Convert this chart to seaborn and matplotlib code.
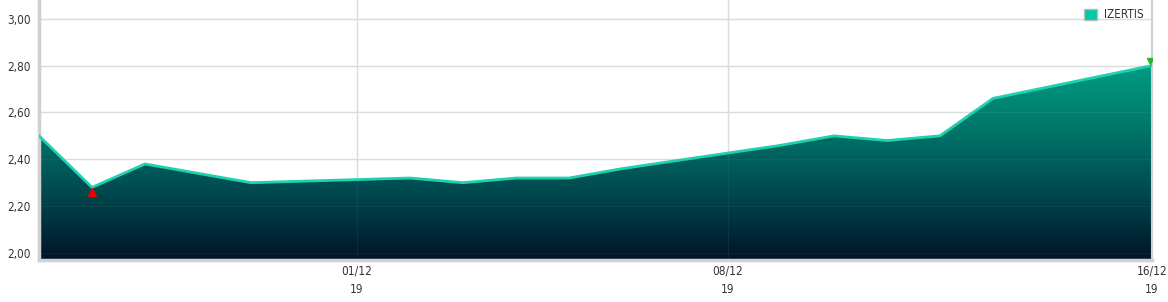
import matplotlib
matplotlib.use("Agg")
import matplotlib.pyplot as plt
import matplotlib.dates as mdates
from matplotlib.colors import LinearSegmentedColormap
from matplotlib.patches import Patch
import numpy as np
import pandas as pd
import seaborn as sns

dates = ["2019-11-25", "2019-11-26", "2019-11-27", "2019-11-28", "2019-11-29",
         "2019-12-02", "2019-12-03", "2019-12-04", "2019-12-05", "2019-12-06",
         "2019-12-09", "2019-12-10", "2019-12-11", "2019-12-12", "2019-12-13",
         "2019-12-16"]
prices = [2.50, 2.28, 2.38, 2.34, 2.30,
          2.32, 2.30, 2.32, 2.32, 2.36,
          2.46, 2.50, 2.48, 2.50, 2.66,
          2.80]
series_name = "IZERTIS"
xtick_dates = ["2019-12-01", "2019-12-08", "2019-12-16"]
xtick_labels = ["01/12\n19", "08/12\n19", "16/12\n19"]
ytick_values = [2.00, 2.20, 2.40, 2.60, 2.80, 3.00]
ytick_labels = ["2,00", "2,20", "2,40", "2,60", "2,80", "3,00"]

df = pd.DataFrame({"date": pd.to_datetime(dates), "price": prices})
df["x"] = mdates.date2num(df["date"])

sns.set_style("white")
plt.rcParams["font.family"] = ["DejaVu Sans"]
plt.rcParams["font.stretch"] = "condensed"

fig = plt.figure(figsize=(11.68, 3.02), dpi=100)
ax = fig.add_axes([39 / 1168, 1 - 260 / 302, (1152 - 39) / 1168, 260 / 302])

ymin, ymax = 1.97, 3.08
xmin, xmax = df["x"].min(), df["x"].max()
ax.set_xlim(xmin, xmax)
ax.set_ylim(ymin, ymax)

# gradient fill
poly = ax.fill_between(df["x"], df["price"], ymin, facecolor="none", edgecolor="none")
cmap = LinearSegmentedColormap.from_list("g", ["#001428", "#004a50", "#007a6c", "#00a488"])
grad = np.linspace(0, 1, 256).reshape(-1, 1)
img = ax.imshow(grad, cmap=cmap, origin="lower", aspect="auto",
                extent=[xmin, xmax, ymin, 2.85], zorder=1)
img.set_clip_path(poly.get_paths()[0], transform=ax.transData)

# grid
for v in ytick_values:
    ax.axhline(v, color="#dadada", lw=1, zorder=0.5)
    ax.axhline(v, color="#ffffff", lw=0.8, alpha=0.05, zorder=2)
for d in xtick_dates[:2]:
    xv = mdates.date2num(pd.Timestamp(d))
    ax.axvline(xv, color="#dadada", lw=1, zorder=0.5)
    ax.axvline(xv, color="#ffffff", lw=0.8, alpha=0.05, zorder=2)

sns.lineplot(data=df, x="x", y="price", ax=ax, color="#1ed2b0", lw=2, zorder=3, legend=False)

# min / max markers
imin = int(np.argmin(prices))
imax = int(np.argmax(prices))
ax.plot(df["x"][imin], prices[imin] - 0.02, marker="^", color="#ee0000", ms=5.5, zorder=4, clip_on=False)
ax.plot(df["x"][imax] - 0.03, prices[imax] + 0.02, marker="v", color="#22bb22", ms=5, zorder=4, clip_on=True)

ax.set_xticks([mdates.date2num(pd.Timestamp(d)) for d in xtick_dates])
ax.set_xticklabels(xtick_labels, fontsize=8.5, color="#333333", linespacing=1.6)
ax.set_yticks(ytick_values)
ax.set_yticklabels(ytick_labels, fontsize=8.5, color="#333333")
ax.tick_params(axis="x", length=0, pad=3)
ax.tick_params(axis="y", length=0, pad=6)
ax.set_xlabel("")
ax.set_ylabel("")

for s in ["left", "bottom"]:
    ax.spines[s].set_color("#d0d0d0")
    ax.spines[s].set_linewidth(2.5)
ax.spines["right"].set_color("#d0d0d0")
ax.spines["right"].set_linewidth(1.5)
ax.spines["top"].set_visible(False)

leg = ax.legend(handles=[Patch(facecolor="#00c8a8", edgecolor="#bbbbbb", label=series_name)],
                loc="upper right", frameon=False, fontsize=8.5, handlelength=1.1, handleheight=1.1,
                borderaxespad=0.3, handletextpad=0.6)
for t in leg.get_texts():
    t.set_color("#333333")

fig.savefig("out.png", dpi=100)
